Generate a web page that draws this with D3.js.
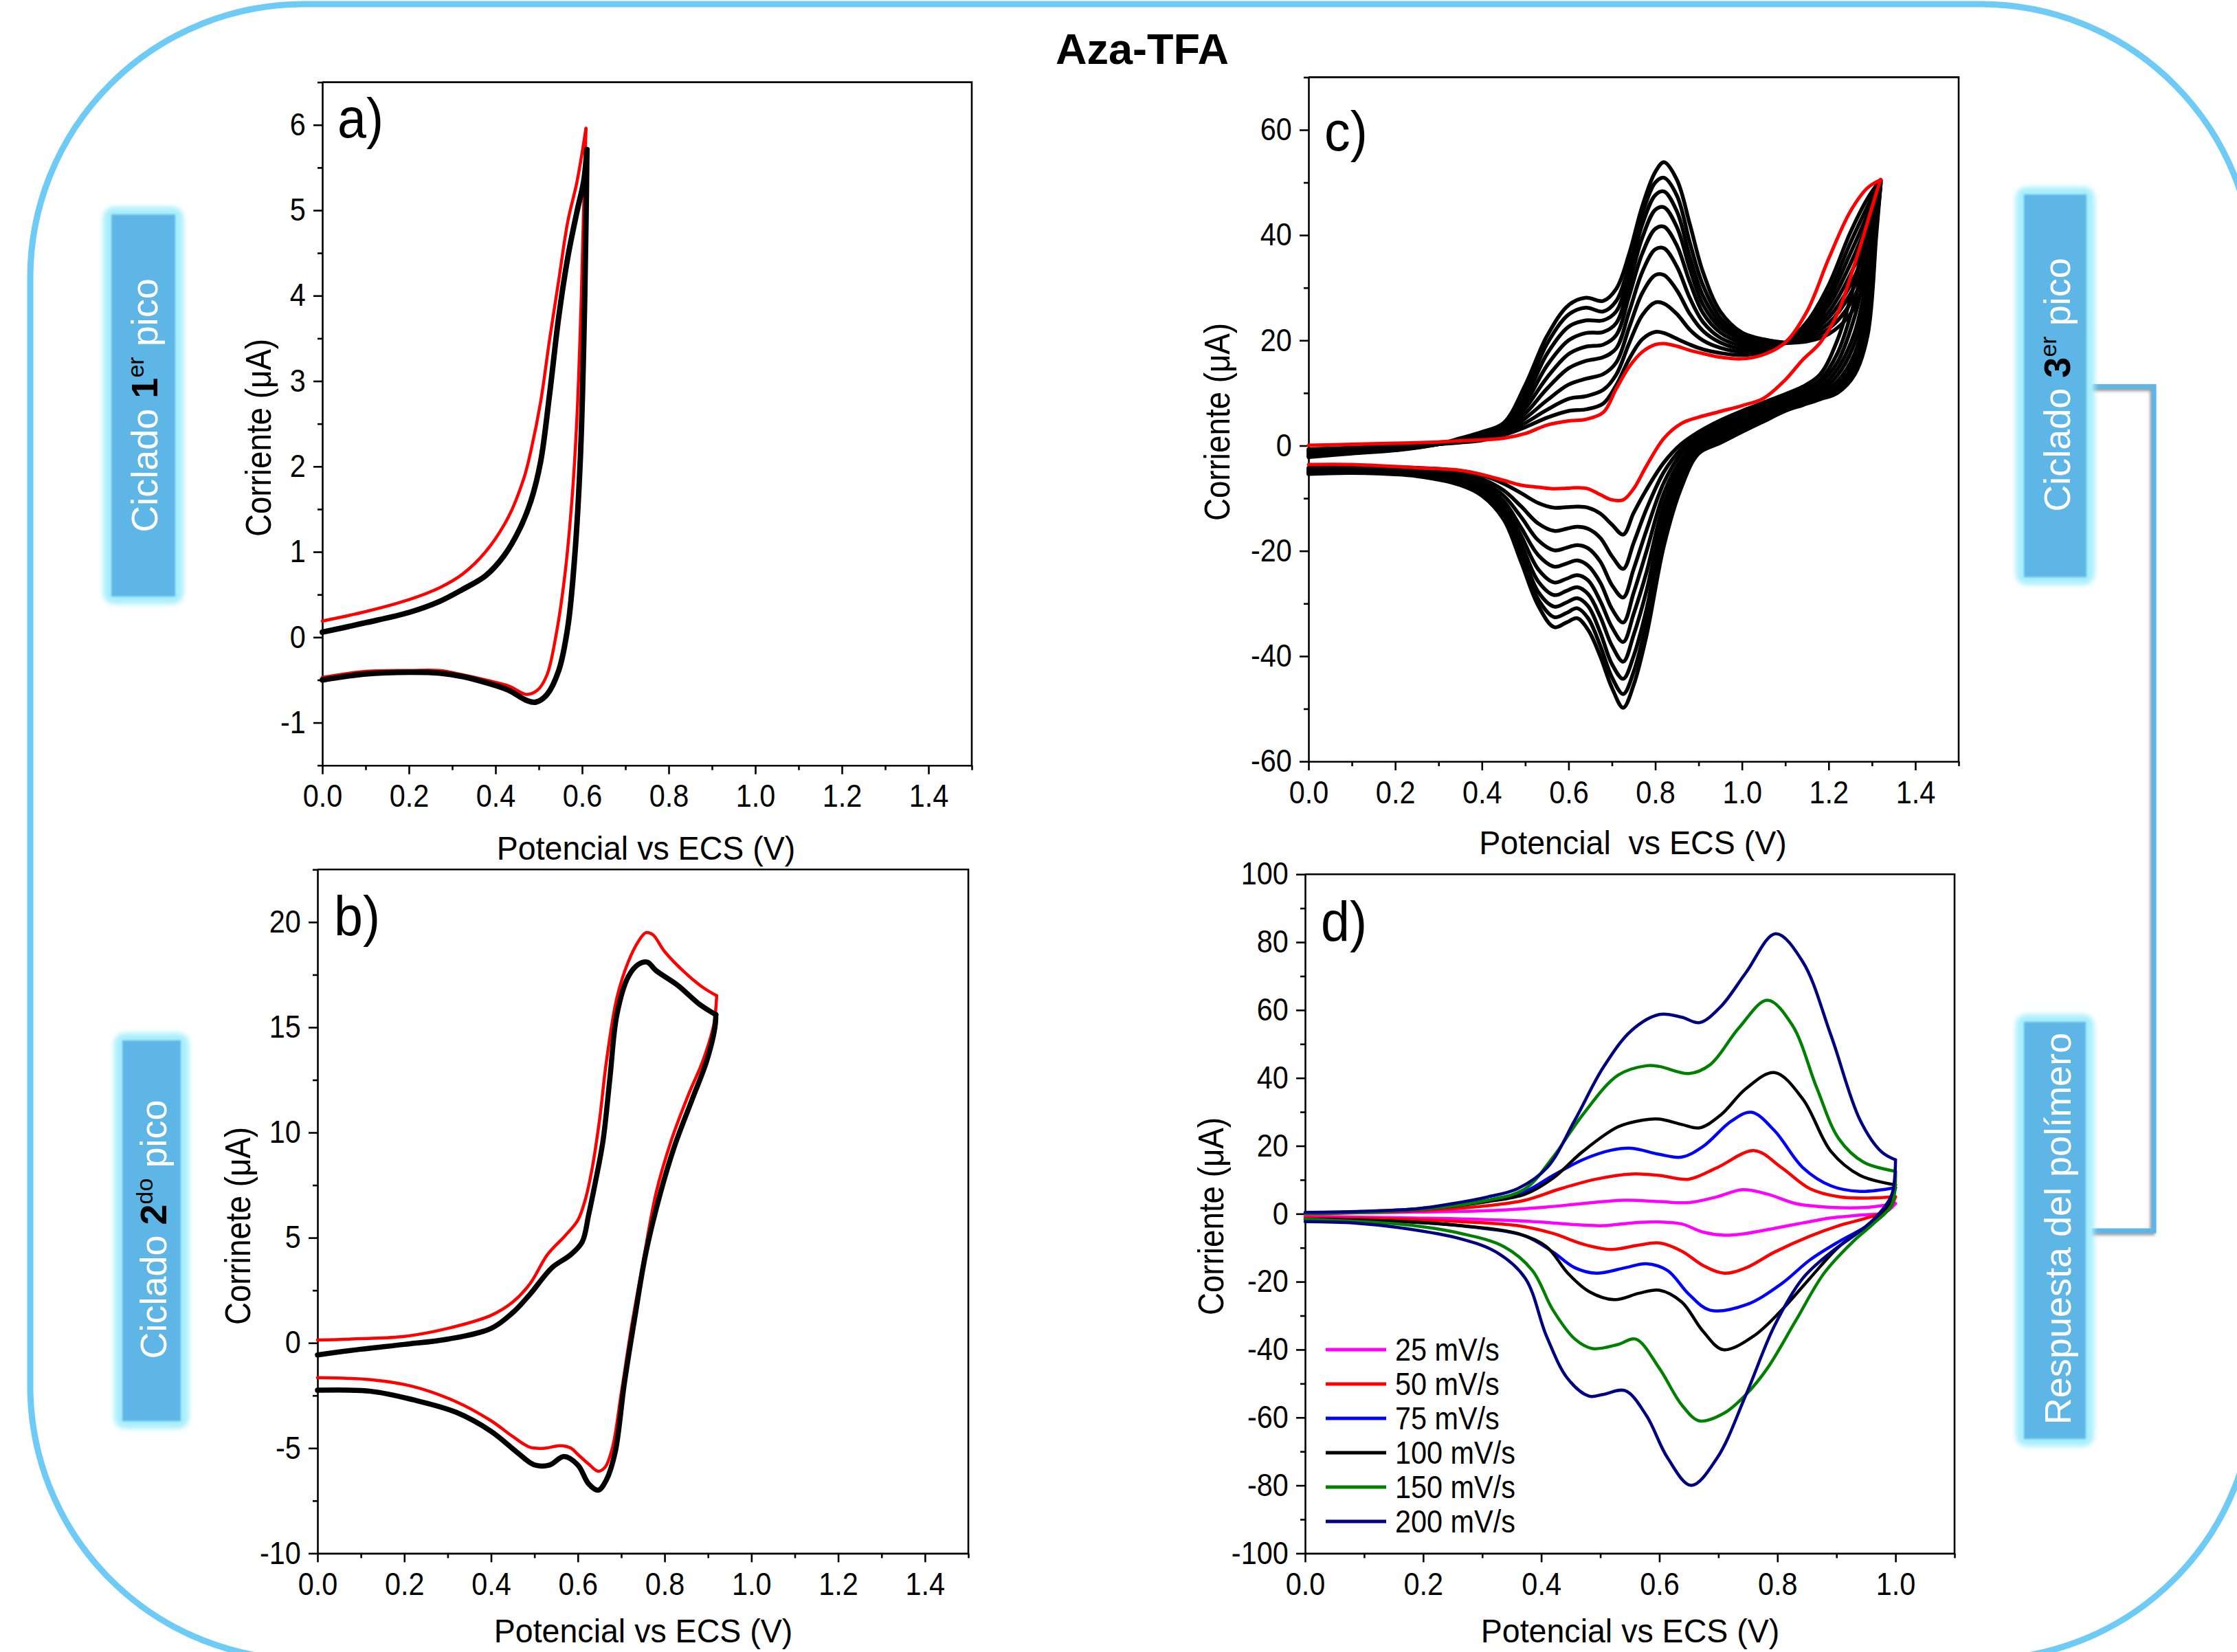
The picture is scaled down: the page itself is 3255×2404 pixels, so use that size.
<!DOCTYPE html>
<html>
<head>
<meta charset="utf-8">
<script src="https://cdn.jsdelivr.net/npm/d3@7"></script>
<style>
  html, body { margin: 0; padding: 0; background: #fff; }
  svg { display: block; }
</style>
</head>
<body>
<svg id="fig" width="3255" height="2404"></svg>
<script>
// ---------------- data ----------------
// Panel a: first oxidation peak cycling (first cycle red, later cycles black)
const aRedFwd = [[0,0.19],[0.1,0.3],[0.2,0.44],[0.271,0.58],[0.324,0.74],[0.377,1.0],[0.43,1.41],[0.466,1.87],[0.482,2.19],[0.504,2.75],[0.525,3.49],[0.546,4.18],[0.567,4.87],[0.588,5.33],[0.609,5.96]];
const aRedRev = [[0.609,5.96],[0.604,5.1],[0.598,3.95],[0.588,2.56],[0.577,1.64],[0.56,0.72],[0.54,0.03],[0.519,-0.44],[0.497,-0.62],[0.472,-0.67],[0.43,-0.57],[0.377,-0.5],[0.324,-0.44],[0.271,-0.39],[0.2,-0.39],[0.1,-0.4],[0,-0.47]];
const aBlackFwd = [[0,0.06],[0.1,0.17],[0.2,0.29],[0.271,0.42],[0.324,0.56],[0.377,0.72],[0.419,0.95],[0.456,1.27],[0.482,1.6],[0.504,2.05],[0.525,2.85],[0.546,3.75],[0.567,4.45],[0.588,4.98],[0.604,5.35],[0.611,5.71]];
const aBlackRev = [[0.611,5.71],[0.609,4.87],[0.604,3.49],[0.596,2.1],[0.583,0.95],[0.567,0.12],[0.546,-0.39],[0.519,-0.67],[0.493,-0.76],[0.472,-0.74],[0.43,-0.62],[0.377,-0.53],[0.324,-0.46],[0.271,-0.42],[0.2,-0.41],[0.1,-0.43],[0,-0.5]];

// Panel b: second peak cycling
const bRedFwd = [[0,0.14],[0.1,0.2],[0.2,0.31],[0.3,0.69],[0.4,1.31],[0.45,1.94],[0.49,2.82],[0.53,4.2],[0.57,5.08],[0.6,5.83],[0.617,6.8],[0.633,8.3],[0.65,10.6],[0.666,13.4],[0.69,16.4],[0.716,18.1],[0.74,19.1],[0.757,19.5],[0.773,19.4],[0.8,18.6],[0.847,17.6],[0.888,16.9],[0.92,16.5]];
const bRedRev = [[0.92,16.5],[0.913,15.1],[0.888,13.4],[0.855,11.8],[0.815,9.6],[0.78,7.1],[0.75,3.8],[0.724,0.8],[0.7,-2.4],[0.68,-4.96],[0.663,-5.9],[0.647,-6.1],[0.625,-5.76],[0.6,-5.3],[0.584,-5.0],[0.559,-4.88],[0.526,-5.0],[0.49,-4.96],[0.45,-4.45],[0.4,-3.7],[0.32,-2.8],[0.22,-2.07],[0.123,-1.75],[0,-1.65]];
const bBlackFwd = [[0,-0.57],[0.1,-0.3],[0.2,-0.07],[0.3,0.18],[0.4,0.69],[0.45,1.44],[0.49,2.32],[0.54,3.57],[0.584,4.2],[0.61,4.8],[0.625,6.1],[0.64,7.6],[0.658,9.6],[0.674,12.6],[0.69,15.6],[0.716,17.4],[0.74,18.0],[0.76,18.1],[0.78,17.7],[0.83,17.0],[0.88,16.1],[0.918,15.6]];
const bBlackRev = [[0.918,15.6],[0.916,15.0],[0.897,13.4],[0.864,11.6],[0.822,9.3],[0.79,7.1],[0.757,4.3],[0.732,1.3],[0.707,-1.95],[0.686,-5.2],[0.666,-6.5],[0.647,-7.0],[0.625,-6.7],[0.6,-5.8],[0.568,-5.4],[0.535,-5.8],[0.5,-5.8],[0.46,-5.2],[0.4,-4.2],[0.32,-3.3],[0.22,-2.7],[0.123,-2.3],[0,-2.25]];

// Panel c: third peak cycling, potentials of the forward and reverse sweeps
const cPotFwd = [0,0.1,0.2,0.3,0.35,0.4,0.45,0.5,0.55,0.6,0.64,0.68,0.71,0.74,0.77,0.8,0.82,0.85,0.88,0.91,0.95,1.0,1.05,1.1,1.15,1.2,1.25,1.29,1.32];
const cPotRev = [1.32,1.31,1.29,1.26,1.22,1.18,1.14,1.1,1.05,1.0,0.95,0.9,0.86,0.82,0.78,0.75,0.726,0.70,0.673,0.645,0.62,0.595,0.567,0.53,0.49,0.45,0.40,0.35,0.25,0.1,0.0];
const cRedFwd = [0.05,0.25,0.45,0.7,0.9,1.1,1.4,2.3,3.9,4.7,5.0,6.3,10.8,15.0,17.8,19.2,19.4,18.9,18.1,17.5,16.8,16.5,17.3,19.6,25.5,35.5,44.5,49.0,50.5];
const cRedRev = [50.5,48.0,42.5,34.5,25.0,19.5,16.3,12.5,9.0,7.6,6.5,5.4,4.2,1.4,-3.8,-8.2,-10.3,-10.3,-9.3,-8.2,-8.0,-8.1,-8.2,-7.9,-7.5,-6.6,-5.5,-4.7,-4.2,-3.6,-3.6];
// later cycles, one row per cycle (growing film)
const cCyclesFwd = [
  [-0.7,-0.4,-0.1,0.3,0.6,1.0,2.0,3.5,5.3,6.6,6.9,8.0,11.5,16.5,20.2,21.6,21.4,20.3,19.2,18.3,17.6,17.2,17.8,19.6,23.5,30.5,40.5,47.0,50.5],
  [-0.9,-0.5,-0.2,0.3,0.7,1.2,2.2,4.3,6.8,8.9,9.4,10.6,13.5,19.5,24.8,27.2,27.0,25.0,22.0,20.0,18.6,17.8,18.1,19.6,23.0,29.0,38.5,45.5,50.4],
  [-1.1,-0.7,-0.3,0.3,0.8,1.4,2.5,5.2,8.6,11.6,12.7,13.6,15.8,22.5,29.0,32.4,32.4,29.5,25.0,21.8,19.6,18.4,18.5,19.5,22.5,27.8,36.5,44.0,50.3],
  [-1.3,-0.8,-0.4,0.3,0.9,1.6,2.8,6.1,10.8,14.7,16.1,16.8,18.5,25.5,33.0,37.3,37.5,34.0,28.0,23.5,20.5,19.0,18.8,19.5,22.0,26.6,34.5,42.5,50.2],
  [-1.5,-1.0,-0.5,0.3,1.0,1.8,3.1,7.1,12.9,17.4,18.8,19.2,21.0,28.5,36.5,41.2,41.6,38.0,31.0,25.2,21.5,19.6,19.2,19.5,21.5,25.4,32.5,40.5,50.1],
  [-1.7,-1.1,-0.6,0.3,1.1,2.0,3.4,8.0,15.2,20.0,21.4,21.6,23.3,30.8,39.5,44.8,45.3,41.5,33.5,26.8,22.4,20.2,19.5,19.5,21.0,24.3,30.5,38.5,50.0],
  [-1.9,-1.3,-0.7,0.3,1.2,2.2,3.7,9.0,17.4,22.6,23.8,23.8,25.5,32.8,42.0,47.6,48.3,44.5,35.8,28.5,23.3,20.6,19.8,19.5,20.6,23.2,28.8,36.5,49.9],
  [-2.0,-1.4,-0.8,0.3,1.3,2.4,4.0,10.2,19.3,24.9,26.2,25.5,27.5,34.5,44.0,50.0,50.9,47.5,38.5,30.5,24.3,21.0,20.0,19.5,20.2,22.2,27.0,34.8,49.8],
  [-2.2,-1.5,-0.9,0.3,1.4,2.6,4.3,11.5,20.8,26.7,28.1,27.5,29.8,36.5,45.5,52.0,53.85,50.5,42.0,33.0,25.5,21.5,20.2,19.6,19.8,21.2,25.0,33.0,49.6]
];
const cCyclesRev = [
  [50.5,48.0,41.5,31.0,20.0,13.5,11.2,9.8,8.2,6.6,4.8,2.6,0.3,-3.2,-8.3,-12.8,-16.9,-15.0,-12.9,-11.8,-11.6,-11.7,-11.8,-10.9,-9.0,-7.2,-5.6,-4.8,-4.2,-4.0,-4.2],
  [50.4,47.0,38.5,27.5,17.5,12.5,10.6,9.4,7.8,6.2,4.3,2.0,-0.6,-5.0,-12.0,-18.5,-23.4,-21.0,-17.5,-15.8,-15.4,-15.8,-16.2,-14.8,-11.5,-8.5,-6.3,-5.2,-4.4,-4.2,-4.4],
  [50.3,46.0,35.5,24.5,15.8,11.8,10.0,9.0,7.4,5.8,3.8,1.4,-1.5,-7.0,-16.0,-23.5,-28.85,-26.5,-22.0,-19.5,-18.9,-19.4,-19.9,-18.0,-13.5,-9.5,-6.9,-5.6,-4.6,-4.4,-4.6],
  [50.2,45.0,32.5,21.5,14.5,11.0,9.5,8.5,6.9,5.3,3.2,0.8,-2.6,-9.0,-20.0,-28.0,-33.6,-31.0,-26.0,-22.8,-21.8,-22.4,-23.0,-20.8,-15.5,-10.5,-7.4,-6.0,-4.8,-4.6,-4.8],
  [50.1,44.0,30.0,19.5,13.3,10.4,9.0,8.0,6.3,4.6,2.6,0.2,-3.6,-11.0,-24.0,-32.0,-37.3,-34.5,-29.5,-25.6,-24.6,-25.3,-26.0,-23.5,-17.0,-11.2,-7.9,-6.4,-5.0,-4.7,-4.9],
  [50.0,43.0,27.5,17.5,12.2,9.9,8.6,7.5,5.7,3.9,2.0,-0.3,-4.6,-13.0,-27.5,-36.0,-41.05,-38.0,-32.5,-28.2,-26.9,-27.6,-28.4,-25.8,-18.5,-12.0,-8.4,-6.8,-5.2,-4.8,-5.0],
  [49.9,42.0,25.5,16.0,11.3,9.5,8.2,7.1,5.2,3.3,1.4,-0.8,-5.6,-15.0,-31.0,-40.0,-44.3,-41.5,-35.5,-30.5,-29.0,-29.8,-30.6,-27.8,-19.8,-12.8,-8.9,-7.1,-5.4,-5.0,-5.1],
  [49.8,41.0,23.0,14.8,10.6,9.1,7.9,6.8,4.9,2.9,0.9,-1.2,-6.8,-17.0,-33.5,-43.0,-47.2,-44.0,-38.0,-32.8,-30.9,-31.8,-32.6,-29.2,-21.0,-13.4,-9.2,-7.3,-5.6,-5.1,-5.2],
  [49.6,40.0,21.0,13.5,10.0,8.8,7.7,6.6,4.6,2.6,0.5,-1.5,-8.0,-19.0,-36.0,-45.5,-49.8,-46.0,-40.0,-35.0,-32.8,-33.6,-34.5,-30.4,-22.0,-14.0,-9.5,-7.5,-5.8,-5.2,-5.4]
];

// Panel d: polymer response at several scan rates
const scanRates = ["25 mV/s","50 mV/s","75 mV/s","100 mV/s","150 mV/s","200 mV/s"];
const scanColors = ["#ff00ff","#ff0000","#0000ff","#000000","#008000","#000080"];
const d25Fwd = [[0,0],[0.095,0.3],[0.19,0.5],[0.31,0.9],[0.409,2.0],[0.47,3.0],[0.542,4.0],[0.6,3.6],[0.65,3.3],[0.698,5.0],[0.741,7.1],[0.783,5.8],[0.831,3.0],[0.891,1.9],[0.952,1.9],[1.0,3.0]];
const d25Rev = [[1.0,3.0],[0.982,0.4],[0.94,-0.4],[0.891,-1.2],[0.843,-2.7],[0.795,-4.3],[0.747,-5.8],[0.71,-6.3],[0.674,-5.4],[0.638,-3.0],[0.6,-2.4],[0.553,-2.7],[0.505,-3.5],[0.457,-3.2],[0.397,-2.4],[0.288,-1.6],[0.168,-1.2],[0,-0.7]];
const d50Fwd = [[0,0],[0.19,0.9],[0.31,2.4],[0.373,4.0],[0.433,7.4],[0.493,10.2],[0.553,11.7],[0.6,11.3],[0.65,10.2],[0.698,13.6],[0.761,18.6],[0.807,13.6],[0.855,7.4],[0.904,5.0],[0.952,4.6],[1.0,5.0]];
const d50Rev = [[1.0,5.0],[0.988,1.2],[0.952,-1.2],[0.904,-3.5],[0.855,-6.6],[0.795,-11.3],[0.747,-15.9],[0.71,-17.5],[0.674,-15.2],[0.638,-11.0],[0.6,-8.6],[0.566,-9.2],[0.518,-10.5],[0.47,-8.9],[0.42,-5.8],[0.36,-3.5],[0.264,-2.3],[0.168,-1.6],[0,-1.2]];
const d75Fwd = [[0,0.2],[0.19,1.5],[0.31,4.0],[0.373,6.6],[0.42,11.3],[0.47,15.9],[0.518,18.7],[0.553,19.3],[0.6,17.5],[0.638,16.7],[0.674,19.8],[0.722,27.3],[0.756,29.9],[0.795,24.5],[0.843,13.6],[0.891,8.2],[0.94,6.6],[1.0,7.7]];
const d75Rev = [[1.0,7.7],[0.988,1.9],[0.952,-3.5],[0.904,-8.2],[0.855,-13.6],[0.807,-20.6],[0.747,-26.8],[0.686,-28.4],[0.65,-23.7],[0.614,-16.7],[0.578,-14.7],[0.542,-15.9],[0.493,-17.5],[0.457,-15.9],[0.42,-11.3],[0.373,-6.6],[0.288,-4.0],[0.168,-2.3],[0,-1.6]];
const d100Fwd = [[0,0.1],[0.19,1.2],[0.31,3.6],[0.373,5.8],[0.42,10.5],[0.47,18.3],[0.53,25.6],[0.572,27.6],[0.6,27.9],[0.638,26.3],[0.668,25.3],[0.704,29.1],[0.747,36.9],[0.795,41.6],[0.843,33.8],[0.891,18.3],[0.94,11.3],[1.0,8.5]];
const d100Rev = [[1.0,8.5],[0.988,2.7],[0.952,-3.5],[0.904,-9.7],[0.855,-19.0],[0.807,-28.4],[0.759,-36.1],[0.708,-40.0],[0.674,-34.6],[0.638,-26.0],[0.6,-22.5],[0.566,-23.4],[0.524,-25.3],[0.481,-22.9],[0.445,-17.5],[0.409,-9.7],[0.36,-5.8],[0.264,-3.5],[0.168,-2.3],[0,-1.6]];
const d150Fwd = [[0,0.1],[0.19,1.2],[0.31,4.0],[0.373,7.4],[0.42,16.7],[0.47,29.1],[0.53,40.8],[0.578,43.6],[0.6,43.4],[0.65,41.3],[0.686,43.9],[0.735,54.8],[0.783,62.9],[0.825,55.6],[0.867,36.9],[0.904,22.1],[0.946,15.2],[1.0,12.5]];
const d150Rev = [[1.0,12.5],[0.994,2.7],[0.964,-2.7],[0.928,-8.2],[0.879,-17.5],[0.831,-31.5],[0.783,-45.5],[0.747,-53.2],[0.71,-58.7],[0.668,-61.0],[0.638,-56.3],[0.6,-45.5],[0.56,-36.9],[0.53,-38.5],[0.487,-39.7],[0.457,-36.9],[0.42,-28.4],[0.385,-16.7],[0.337,-9.7],[0.264,-5.8],[0.168,-3.2],[0,-1.6]];
const d200Fwd = [[0,0.4],[0.095,0.7],[0.19,1.5],[0.25,3.0],[0.31,5.0],[0.36,7.4],[0.41,13.6],[0.457,27.6],[0.505,43.1],[0.553,54.0],[0.6,58.7],[0.638,57.9],[0.668,56.3],[0.704,61.0],[0.747,71.1],[0.797,82.5],[0.843,74.2],[0.891,52.4],[0.94,27.6],[0.976,18.3],[1.0,15.9]];
const d200Rev = [[1.0,15.9],[0.994,5.8],[0.97,-0.4],[0.94,-5.1],[0.891,-11.3],[0.843,-19.0],[0.795,-33.0],[0.747,-53.2],[0.698,-71.9],[0.654,-80.0],[0.614,-71.9],[0.578,-59.4],[0.542,-52.1],[0.505,-53.2],[0.481,-53.7],[0.445,-48.6],[0.409,-36.1],[0.373,-19.0],[0.324,-11.3],[0.264,-7.4],[0.168,-4.3],[0.083,-2.7],[0,-2.3]];
const dSweeps = [[d25Fwd,d25Rev],[d50Fwd,d50Rev],[d75Fwd,d75Rev],[d100Fwd,d100Rev],[d150Fwd,d150Rev],[d200Fwd,d200Rev]];

// tick values
const ticksE15 = [0,0.2,0.4,0.6,0.8,1.0,1.2,1.4];
const minorE15 = [0.1,0.3,0.5,0.7,0.9,1.1,1.3,1.5];
const ticksE11 = [0,0.2,0.4,0.6,0.8,1.0];
const minorE11 = [0.1,0.3,0.5,0.7,0.9,1.1];
const ticksIa = [-1,0,1,2,3,4,5,6];
const minorIa = [-1.5,-0.5,0.5,1.5,2.5,3.5,4.5,5.5,6.5];
const ticksIb = [-10,-5,0,5,10,15,20];
const minorIb = [-7.5,-2.5,2.5,7.5,12.5,17.5,22.5];
const ticksIc = [-60,-40,-20,0,20,40,60];
const minorIc = [-50,-30,-10,10,30,50,70];
const ticksId = [-100,-80,-60,-40,-20,0,20,40,60,80,100];
const minorId = [-90,-70,-50,-30,-10,10,30,50,70,90];

// ---------------- drawing ----------------
const FONT = '"Liberation Sans", Arial, Helvetica, sans-serif';
const svg = d3.select("#fig");
const defs = svg.append("defs");
defs.append("filter").attr("id", "glow").attr("x", "-20%").attr("y", "-5%").attr("width", "140%").attr("height", "110%")
  .append("feGaussianBlur").attr("stdDeviation", 3.5);
defs.append("filter").attr("id", "soft").append("feGaussianBlur").attr("stdDeviation", 1.6);
defs.append("filter").attr("id", "shadow").attr("x", "-50%").attr("y", "-5%").attr("width", "200%").attr("height", "110%")
  .append("feDropShadow").attr("dx", -2).attr("dy", 3).attr("stdDeviation", 2)
  .attr("flood-color", "#444").attr("flood-opacity", 0.55);

// outer rounded frame
svg.append("rect").attr("x", 44).attr("y", 6).attr("width", 3236).attr("height", 2409)
  .attr("rx", 398).attr("ry", 398).attr("fill", "none")
  .attr("stroke", "#6ecbf5").attr("stroke-width", 9);

// title
svg.append("text").attr("x", 1662).attr("y", 93).attr("text-anchor", "middle")
  .attr("font-family", FONT).attr("font-weight", "bold").attr("font-size", 63).text("Aza-TFA");

const fmt1 = d => d.toFixed(1);
const fmt0 = d => String(d);
const SX = 0.9; // condensed look of the axis lettering

function drawPanel(p) {
  const x = d3.scaleLinear().domain(p.xDomain).range([p.x0, p.x1]);
  const y = d3.scaleLinear().domain(p.yDomain).range([p.y1, p.y0]);
  const g = svg.append("g");

  const tidy = sel => {
    sel.select(".domain").attr("stroke-width", 2.6);
    sel.selectAll(".tick line").attr("stroke-width", 2.6);
    sel.selectAll(".tick text").attr("font-size", 46).attr("font-family", FONT).attr("fill", "#000");
  };

  // minor ticks
  g.append("g").attr("transform", `translate(0,${p.y1})`)
    .call(d3.axisBottom(x).tickValues(p.xMinor).tickSize(7).tickSizeOuter(0).tickFormat(() => ""))
    .call(s => { s.select(".domain").remove(); s.selectAll("line").attr("stroke-width", 2.6); });
  g.append("g").attr("transform", `translate(${p.x0},0)`)
    .call(d3.axisLeft(y).tickValues(p.yMinor).tickSize(7).tickSizeOuter(0).tickFormat(() => ""))
    .call(s => { s.select(".domain").remove(); s.selectAll("line").attr("stroke-width", 2.6); });

  // major axes
  const xa = g.append("g").attr("transform", `translate(0,${p.y1})`)
    .call(d3.axisBottom(x).tickValues(p.xTicks).tickSize(13).tickSizeOuter(0).tickPadding(15).tickFormat(fmt1));
  tidy(xa);
  xa.selectAll(".tick text").attr("transform", `scale(${SX},1)`);
  const ya = g.append("g").attr("transform", `translate(${p.x0},0)`)
    .call(d3.axisLeft(y).tickValues(p.yTicks).tickSize(13).tickSizeOuter(0).tickPadding(14).tickFormat(fmt0));
  tidy(ya);
  ya.selectAll(".tick text").attr("transform", `scale(${SX},1)`);

  // top and right border
  g.append("path").attr("d", `M${p.x0},${p.y0}H${p.x1}V${p.y1}`)
    .attr("fill", "none").attr("stroke", "#000").attr("stroke-width", 2.6);

  // axis titles
  g.append("text").attr("transform", `translate(${p.xtX},${p.xtY}) scale(0.95,1)`)
    .attr("text-anchor", "middle").attr("font-family", FONT).attr("font-size", 49)
    .style("white-space", "pre").text(p.xTitle);
  g.append("text").attr("transform", `translate(${p.ytX},${p.ytY}) rotate(-90) scale(0.88,1)`)
    .attr("text-anchor", "middle").attr("font-family", FONT).attr("font-size", 52).text(p.yTitle);

  // panel letter
  g.append("text").attr("transform", `translate(${p.lx},${p.ly}) scale(0.92,1)`)
    .attr("font-family", FONT).attr("font-size", 82).text(p.letter);

  // voltammograms
  const line = d3.line().x(d => x(d[0])).y(d => y(d[1])).curve(d3.curveCatmullRom.alpha(0.5));
  p.series.forEach(s => {
    g.append("path").attr("d", line(s.pts)).attr("fill", "none")
      .attr("stroke", s.color).attr("stroke-width", s.w)
      .attr("stroke-linecap", "round").attr("stroke-linejoin", "round");
  });
  return { x, y, g };
}

// Panel a
drawPanel({
  x0: 469, x1: 1414, y0: 119.6, y1: 1113.7, xDomain: [0, 1.5], yDomain: [-1.5, 6.5],
  xTicks: ticksE15, xMinor: minorE15, yTicks: ticksIa, yMinor: minorIa,
  xTitle: "Potencial vs ECS (V)", xtX: 940, xtY: 1251,
  yTitle: "Corriente (\u03bcA)", ytX: 394, ytY: 637,
  letter: "a)", lx: 491, ly: 200,
  series: [
    { pts: aRedFwd, color: "#ff0000", w: 4.5 }, { pts: aRedRev, color: "#ff0000", w: 4.5 },
    { pts: aBlackFwd, color: "#000", w: 8 }, { pts: aBlackRev, color: "#000", w: 8 }
  ]
});

// Panel b
drawPanel({
  x0: 462, x1: 1409, y0: 1265.3, y1: 2260.4, xDomain: [0, 1.5], yDomain: [-10, 22.5],
  xTicks: ticksE15, xMinor: minorE15, yTicks: ticksIb, yMinor: minorIb,
  xTitle: "Potencial vs ECS (V)", xtX: 936, xtY: 2390,
  yTitle: "Corrinete (\u03bcA)", ytX: 364, ytY: 1784,
  letter: "b)", lx: 486, ly: 1361,
  series: [
    { pts: bRedFwd, color: "#ff0000", w: 4.5 }, { pts: bRedRev, color: "#ff0000", w: 4.5 },
    { pts: bBlackFwd, color: "#000", w: 7.5 }, { pts: bBlackRev, color: "#000", w: 7.5 }
  ]
});

// Panel c
const zipPot = (pot, cur) => pot.map((e, i) => [e, cur[i]]);
const cSeries = [];
cCyclesFwd.forEach((row, k) => {
  cSeries.push({ pts: zipPot(cPotFwd, row), color: "#000", w: 5.5 });
  cSeries.push({ pts: zipPot(cPotRev, cCyclesRev[k]), color: "#000", w: 5.5 });
});
cSeries.push({ pts: zipPot(cPotFwd, cRedFwd), color: "#ff0000", w: 5 });
cSeries.push({ pts: zipPot(cPotRev, cRedRev), color: "#ff0000", w: 5 });
drawPanel({
  x0: 1904, x1: 2850, y0: 112.4, y1: 1108, xDomain: [0, 1.5], yDomain: [-60, 70],
  xTicks: ticksE15, xMinor: minorE15, yTicks: ticksIc, yMinor: minorIc,
  xTitle: "Potencial  vs ECS (V)", xtX: 2376, xtY: 1243,
  yTitle: "Corriente (\u03bcA)", ytX: 1789, ytY: 614,
  letter: "c)", lx: 1927, ly: 219,
  series: cSeries
});

// Panel d
const dSeries = [];
dSweeps.forEach((sw, k) => {
  dSeries.push({ pts: sw[0], color: scanColors[k], w: 4.5 });
  dSeries.push({ pts: sw[1], color: scanColors[k], w: 4.5 });
});
const pd = drawPanel({
  x0: 1899, x1: 2844, y0: 1272.2, y1: 2260.4, xDomain: [0, 1.1], yDomain: [-100, 100],
  xTicks: ticksE11, xMinor: minorE11, yTicks: ticksId, yMinor: minorId,
  xTitle: "Potencial vs ECS (V)", xtX: 2372, xtY: 2390,
  yTitle: "Corriente (\u03bcA)", ytX: 1780, ytY: 1770,
  letter: "d)", lx: 1922, ly: 1369,
  series: dSeries
});

// legend for panel d
const leg = pd.g.append("g");
scanRates.forEach((lab, i) => {
  const cy = 1964 + i * 50;
  leg.append("line").attr("x1", 1929).attr("x2", 2017).attr("y1", cy).attr("y2", cy)
    .attr("stroke", scanColors[i]).attr("stroke-width", 5);
  leg.append("text").attr("transform", `translate(2030,${cy + 16}) scale(${SX},1)`)
    .attr("font-family", FONT).attr("font-size", 46).text(lab);
});

// side labels
const boxes = [
  { x0: 150, x1: 267, y0: 301, y1: 879, tx: 229, cy: 590,
    parts: [["Ciclado ", "#fff"], ["1", "#000", "bold"], ["er", "#000", null, true], [" pico", "#fff"]] },
  { x0: 166, x1: 275, y0: 1503, y1: 2079, tx: 242, cy: 1789,
    parts: [["Ciclado ", "#fff"], ["2", "#000", "bold"], ["do", "#000", null, true], [" pico", "#fff"]] },
  { x0: 2933, x1: 3048, y0: 272, y1: 851, tx: 3012, cy: 560,
    parts: [["Ciclado ", "#fff"], ["3", "#000", "bold"], ["er", "#000", null, true], [" pico", "#fff"]] },
  { x0: 2933, x1: 3047, y0: 1476, y1: 2105, tx: 3013, cy: 1788,
    parts: [["Respuesta del pol\u00edmero", "#fff"]] }
];

// connector between the third-peak box and the polymer response box
svg.append("path").attr("d", "M3044,562.5H3134V1791H3044")
  .attr("fill", "none").attr("stroke", "#5db6e6").attr("stroke-width", 7)
  .attr("filter", "url(#shadow)");

boxes.forEach(b => {
  svg.append("rect").attr("x", b.x0).attr("y", b.y0).attr("width", b.x1 - b.x0).attr("height", b.y1 - b.y0)
    .attr("rx", 16).attr("fill", "#a9effd").attr("filter", "url(#glow)");
  svg.append("rect").attr("x", b.x0 + 12).attr("y", b.y0 + 11).attr("width", b.x1 - b.x0 - 24).attr("height", b.y1 - b.y0 - 22)
    .attr("fill", "#5db6e6").attr("filter", "url(#soft)");
  const t = svg.append("text").attr("transform", `translate(${b.tx},${b.cy}) rotate(-90)`)
    .attr("text-anchor", "middle").attr("font-family", FONT).attr("font-size", 54);
  let raised = false;
  b.parts.forEach(([txt, col, wt, sup]) => {
    const ts = t.append("tspan").attr("fill", col).style("white-space", "pre").text(txt);
    if (wt) ts.attr("font-weight", wt);
    if (sup) { ts.attr("font-size", 34).attr("dy", -20); raised = true; }
    else if (raised) { ts.attr("dy", 20); raised = false; }
  });
});
</script>
</body>
</html>
